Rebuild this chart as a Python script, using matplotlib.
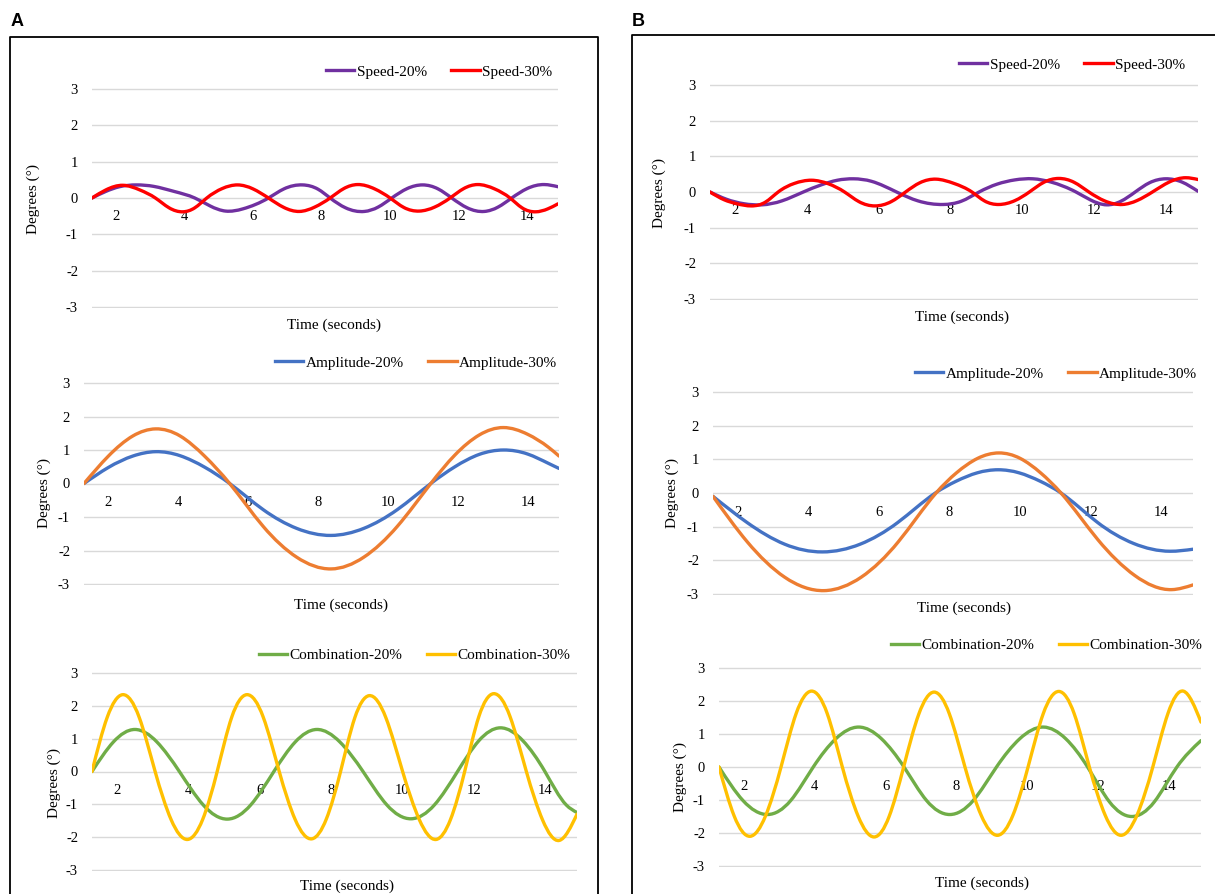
import numpy as np
import matplotlib
matplotlib.use("Agg")
import matplotlib.pyplot as plt
from matplotlib.path import Path
from matplotlib.patches import PathPatch
from matplotlib.lines import Line2D

plt.rcParams['font.family'] = ['Liberation Serif', 'DejaVu Serif']
plt.rcParams['axes.unicode_minus'] = False

# ---- values (time in s, angle in degrees) ----
# Panel A
a_speed20_t = [1.3, 1.7, 2.1, 2.6, 3.1, 3.7, 4.3, 4.75, 5.2, 5.7, 6.45, 6.9, 7.45, 7.9, 8.25, 8.7, 9.25, 9.65,
               10.05, 10.5, 10.95, 11.4, 11.8, 12.25, 12.75, 13.15, 13.55, 14.0, 14.5, 14.9]
a_speed20_y = [0.0, 0.18, 0.31, 0.36, 0.32, 0.18, 0.0, -0.22, -0.36, -0.3, 0.0, 0.25, 0.36, 0.24, 0.0, -0.27, -0.37,
               -0.25, 0.0, 0.26, 0.36, 0.25, 0.0, -0.27, -0.37, -0.25, 0.0, 0.26, 0.37, 0.31]
a_speed30_t = [1.3, 1.7, 2.2, 2.7, 3.15, 3.55, 3.95, 4.3, 4.65, 5.1, 5.55, 6.0, 6.45, 6.9, 7.35, 7.8, 8.25, 8.65,
               9.05, 9.55, 10.0, 10.4, 10.85, 11.3, 11.75, 12.15, 12.55, 13.05, 13.5, 13.85, 14.25, 14.6, 14.9]
a_speed30_y = [0.0, 0.22, 0.35, 0.22, 0.0, -0.27, -0.38, -0.27, 0.0, 0.26, 0.36, 0.25, 0.0, -0.26, -0.37, -0.25,
               0.0, 0.26, 0.37, 0.25, 0.0, -0.26, -0.36, -0.25, 0.0, 0.26, 0.37, 0.25, 0.0, -0.27, -0.38, -0.3, -0.16]
a_amp_t = [1.3, 2.0, 2.7, 3.35, 4.05, 4.75, 5.47, 6.43, 7.39, 8.37, 9.31, 10.27, 11.23, 11.92, 12.62, 13.31,
           14.0, 14.6, 14.9]
a_amp20_y = [0.0, 0.48, 0.82, 0.95, 0.83, 0.49, 0.0, -0.78, -1.34, -1.55, -1.34, -0.78, 0.0, 0.5, 0.87, 1.0,
             0.88, 0.6, 0.45]
a_amp30_y = [0.0, 0.82, 1.42, 1.63, 1.42, 0.82, 0.0, -1.28, -2.2, -2.55, -2.2, -1.28, 0.0, 0.85, 1.45, 1.67,
             1.47, 1.08, 0.82]
a_comb20_t = [1.3, 1.9, 2.5, 3.12, 3.75, 4.42, 5.1, 5.75, 6.4, 7.0, 7.6, 8.25, 8.9, 9.57, 10.25, 10.9, 11.55,
              12.15, 12.75, 13.38, 14.0, 14.6, 14.9]
a_comb20_y = [0.0, 0.9, 1.28, 0.9, 0.0, -1.02, -1.45, -1.02, 0.0, 0.9, 1.28, 0.9, 0.0, -1.02, -1.44, -1.02, 0.0,
              0.94, 1.33, 0.94, 0.0, -1.02, -1.25]
a_comb30_t = [1.3, 1.73, 2.16, 2.62, 3.07, 3.52, 3.98, 4.4, 4.81, 5.22, 5.64, 6.1, 6.55, 7.0, 7.47, 7.87, 8.27,
              8.67, 9.07, 9.54, 10.01, 10.48, 10.95, 11.35, 11.75, 12.15, 12.56, 13.02, 13.48, 13.94, 14.4, 14.9]
a_comb30_y = [0.0, 1.66, 2.34, 1.66, 0.0, -1.47, -2.07, -1.47, 0.0, 1.66, 2.34, 1.66, 0.0, -1.47, -2.05, -1.45,
              0.0, 1.64, 2.31, 1.64, 0.0, -1.47, -2.07, -1.47, 0.0, 1.68, 2.37, 1.68, 0.0, -1.49, -2.1, -1.3]

# Panel B
b_speed20_t = [1.3, 1.75, 2.25, 2.75, 3.3, 3.9, 4.4, 4.85, 5.3, 5.8, 6.5, 7.1, 7.8, 8.3, 8.8, 9.3, 9.8, 10.3,
               10.8, 11.5, 11.9, 12.35, 12.75, 13.15, 13.55, 14.0, 14.45, 14.9]
b_speed20_y = [0.0, -0.2, -0.33, -0.36, -0.25, 0.0, 0.2, 0.33, 0.37, 0.3, 0.0, -0.25, -0.35, -0.26, 0.0, 0.22,
               0.34, 0.37, 0.28, 0.0, -0.22, -0.36, -0.26, 0.0, 0.26, 0.37, 0.28, 0.02]
b_speed30_t = [1.3, 1.7, 2.05, 2.45, 2.85, 3.2, 3.65, 4.13, 4.6, 5.05, 5.45, 5.9, 6.35, 6.75, 7.15, 7.6, 8.1, 8.6,
               8.95, 9.35, 9.8, 10.2, 10.6, 11.02, 11.45, 11.86, 12.3, 12.8, 13.2, 13.63, 14.1, 14.56, 14.9]
b_speed30_y = [0.0, -0.22, -0.33, -0.39, -0.28, 0.0, 0.24, 0.33, 0.23, 0.0, -0.27, -0.39, -0.27, 0.0, 0.26, 0.36,
               0.24, 0.0, -0.25, -0.35, -0.24, 0.0, 0.27, 0.38, 0.27, 0.0, -0.25, -0.35, -0.24, 0.0, 0.28, 0.4, 0.35]
b_amp20_t = [1.3, 2.27, 3.33, 4.4, 5.47, 6.53, 7.6, 8.19, 8.79, 9.38, 9.97, 10.57, 11.16, 12.19, 13.22, 14.25, 14.9]
b_amp20_y = [-0.1, -0.88, -1.52, -1.75, -1.52, -0.88, 0.0, 0.35, 0.6, 0.69, 0.6, 0.35, 0.0, -0.87, -1.5, -1.73, -1.67]
b_amp30_t = [1.3, 2.27, 3.33, 4.45, 5.5, 6.55, 7.62, 8.2, 8.8, 9.4, 10.0, 10.58, 11.16, 12.2, 13.25, 14.3, 14.9]
b_amp30_y = [-0.1, -1.45, -2.5, -2.9, -2.5, -1.45, 0.0, 0.6, 1.03, 1.19, 1.03, 0.6, 0.0, -1.38, -2.45, -2.87, -2.73]
b_comb20_t = [1.3, 1.98, 2.67, 3.32, 3.96, 4.6, 5.24, 5.88, 6.52, 7.16, 7.81, 8.47, 9.13, 9.79, 10.45, 11.08, 11.7,
              12.32, 12.94, 13.58, 14.22, 14.9]
b_comb20_y = [0.0, -1.02, -1.44, -1.02, 0.0, 0.86, 1.21, 0.86, 0.0, -1.02, -1.44, -1.02, 0.0, 0.86, 1.21, 0.86, 0.0,
              -1.06, -1.5, -1.06, 0.0, 0.8]
b_comb30_t = [1.3, 1.73, 2.18, 2.61, 3.05, 3.48, 3.91, 4.35, 4.78, 5.23, 5.68, 6.1, 6.51, 6.94, 7.37, 7.8, 8.24, 8.7,
              9.16, 9.59, 10.02, 10.45, 10.89, 11.32, 11.75, 12.2, 12.64, 13.09, 13.54, 13.97, 14.4, 14.9]
b_comb30_y = [0.0, -1.49, -2.1, -1.49, 0.0, 1.63, 2.3, 1.63, 0.0, -1.5, -2.12, -1.5, 0.0, 1.61, 2.27, 1.61, 0.0,
              -1.47, -2.07, -1.47, 0.0, 1.62, 2.29, 1.62, 0.0, -1.47, -2.07, -1.47, 0.0, 1.63, 2.3, 1.36]

x_ticks = [2, 4, 6, 8, 10, 12, 14]
y_ticks = [-3, -2, -1, 0, 1, 2, 3]

PURPLE, RED = '#7030A0', '#FF0000'
BLUE, ORANGE = '#4472C4', '#ED7D31'
GREEN, YELLOW = '#70AD47', '#FFC000'

W, H = 1215, 894
fig = plt.figure(figsize=(W / 100, H / 100), dpi=100)


def smooth_path(t, y):
    # natural cubic spline through the points, drawn as bezier segments (Excel-like smoothed line)
    t = np.asarray(t, float)
    y = np.asarray(y, float)
    n = len(t)
    h = np.diff(t)
    A = np.zeros((n, n))
    r = np.zeros(n)
    A[0, 0] = A[-1, -1] = 1.0
    for i in range(1, n - 1):
        A[i, i - 1] = h[i - 1]
        A[i, i] = 2 * (h[i - 1] + h[i])
        A[i, i + 1] = h[i]
        r[i] = 6 * ((y[i + 1] - y[i]) / h[i] - (y[i] - y[i - 1]) / h[i - 1])
    M = np.linalg.solve(A, r)
    verts = [(t[0], y[0])]
    codes = [Path.MOVETO]
    for i in range(n - 1):
        s = (y[i + 1] - y[i]) / h[i]
        d0 = s - h[i] * (2 * M[i] + M[i + 1]) / 6
        d1 = s + h[i] * (M[i] + 2 * M[i + 1]) / 6
        verts += [(t[i] + h[i] / 3, y[i] + d0 * h[i] / 3),
                  (t[i + 1] - h[i] / 3, y[i + 1] - d1 * h[i] / 3),
                  (t[i + 1], y[i + 1])]
        codes += [Path.CURVE4] * 3
    return Path(verts, codes)


def make_chart(left, right, top, bottom, series, leg_right, leg_y, ylab_x, ylab_y, xlab_x, xlab_y):
    # positions given in pixels of the final image (top/bottom = the 3 and -3 gridlines)
    pad = 0.03 * (bottom - top) / 6
    ax = fig.add_axes([left / W, 1 - (bottom + pad) / H, (right - left) / W, (bottom - top + 2 * pad) / H])
    ax.set_xlim(1.3, 14.9)
    ax.set_ylim(-3.03, 3.03)
    for s in ax.spines.values():
        s.set_visible(False)
    ax.spines['bottom'].set_position(('data', 0))
    ax.set_xticks(x_ticks)
    ax.set_yticks(y_ticks)
    ax.set_yticklabels([str(v) for v in y_ticks])
    ax.tick_params(axis='x', length=0, pad=9, labelsize=10.5)
    ax.tick_params(axis='y', length=0, pad=10, labelsize=10.5)
    ax.grid(axis='y', color='#D9D9D9', lw=1.0)
    ax.set_axisbelow(True)

    handles = []
    for t, y, color, name in series:
        ax.add_patch(PathPatch(smooth_path(t, y), fill=False, edgecolor=color, lw=2.4,
                               capstyle='round', joinstyle='round', zorder=3))
        handles.append(Line2D([], [], color=color, lw=2.4, label=name))

    fig.legend(handles=handles, loc='center right', ncol=2, frameon=False, fontsize=11,
               bbox_to_anchor=(leg_right / W, 1 - leg_y / H), bbox_transform=fig.transFigure,
               handlelength=1.85, handletextpad=0.15, columnspacing=1.6, borderpad=0, borderaxespad=0)

    fig.text(ylab_x / W, 1 - ylab_y / H, 'Degrees (°)', rotation=90, ha='center', va='center', fontsize=11)
    fig.text(xlab_x / W, 1 - xlab_y / H, 'Time (seconds)', ha='center', va='center', fontsize=11)
    return ax


# panel A
make_chart(92, 558, 89, 307,
           [(a_speed20_t, a_speed20_y, PURPLE, 'Speed-20%'), (a_speed30_t, a_speed30_y, RED, 'Speed-30%')],
           552, 72, 33, 199, 334, 325)
make_chart(84, 559, 383, 584,
           [(a_amp_t, a_amp20_y, BLUE, 'Amplitude-20%'), (a_amp_t, a_amp30_y, ORANGE, 'Amplitude-30%')],
           557, 363, 44, 493, 341, 605)
make_chart(92, 577, 673, 870,
           [(a_comb20_t, a_comb20_y, GREEN, 'Combination-20%'), (a_comb30_t, a_comb30_y, YELLOW, 'Combination-30%')],
           570, 655, 54, 783, 347, 886)

# panel B
make_chart(710, 1198, 85, 299,
           [(b_speed20_t, b_speed20_y, PURPLE, 'Speed-20%'), (b_speed30_t, b_speed30_y, RED, 'Speed-30%')],
           1185, 65, 659, 193, 962, 317)
make_chart(713, 1193, 392, 594,
           [(b_amp20_t, b_amp20_y, BLUE, 'Amplitude-20%'), (b_amp30_t, b_amp30_y, ORANGE, 'Amplitude-30%')],
           1197, 374, 672, 493, 964, 608)
make_chart(719, 1201, 668, 866,
           [(b_comb20_t, b_comb20_y, GREEN, 'Combination-20%'), (b_comb30_t, b_comb30_y, YELLOW, 'Combination-30%')],
           1202, 645, 680, 777, 982, 883)


# panel frames and letters
def fig_line(xs, ys):
    fig.add_artist(Line2D([x / W for x in xs], [1 - y / H for y in ys], color='black', lw=1.3))


fig_line([10.5, 10.5, 598, 598], [900, 37, 37, 900])
fig_line([632, 632, 1220], [900, 35, 35])
fig.text(11 / W, 1 - 22 / H, 'A', fontsize=13, fontweight='bold', family=['Liberation Sans', 'DejaVu Sans'],
         ha='left', va='center')
fig.text(632 / W, 1 - 21 / H, 'B', fontsize=13, fontweight='bold', family=['Liberation Sans', 'DejaVu Sans'],
         ha='left', va='center')

fig.savefig('out.png', dpi=100)
